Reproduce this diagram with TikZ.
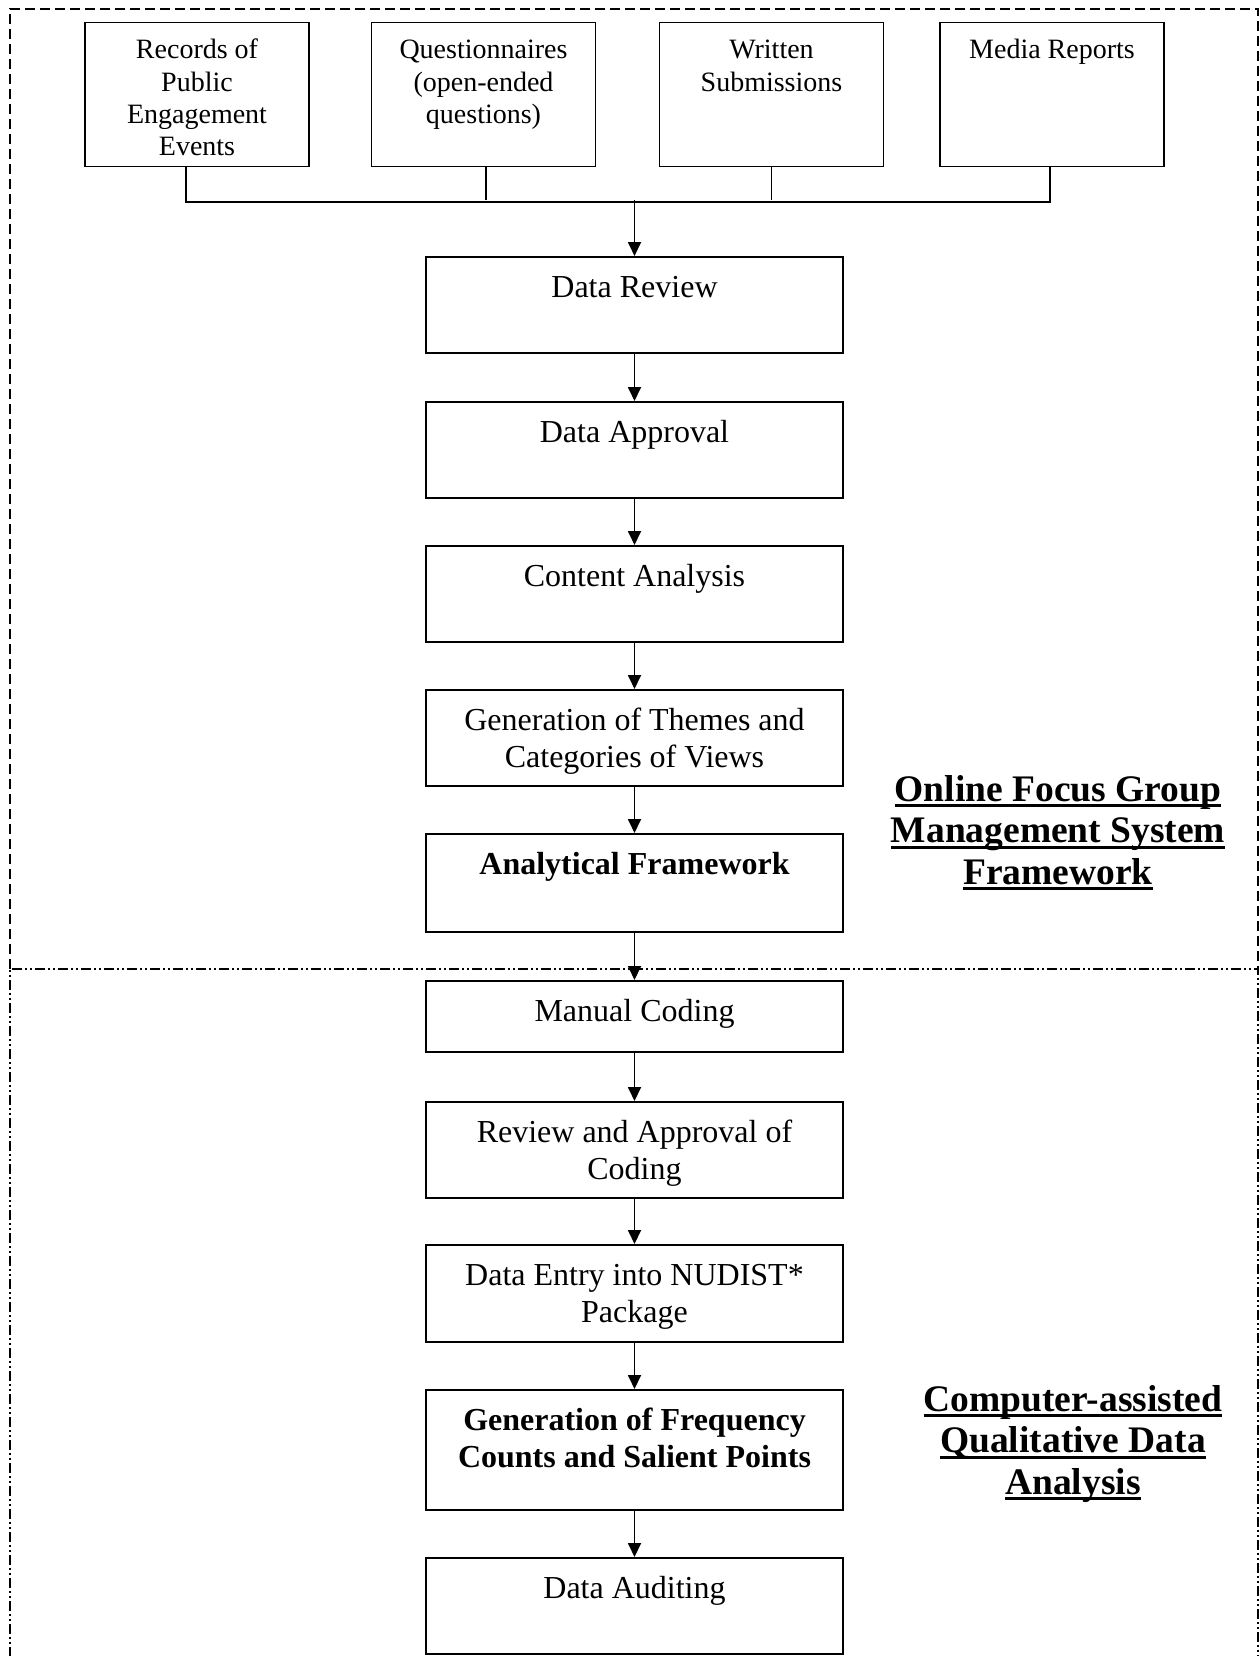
\documentclass[tikz,border=0pt]{standalone}
\usepackage{fontspec}
\setmainfont{Liberation Serif}
\usetikzlibrary{arrows.meta}
\newlength{\hdwd}
\newcommand{\hdline}[1]{\leavevmode\settowidth{\hdwd}{#1}\rlap{\rule[-6pt]{\hdwd}{3pt}}#1}

\begin{document}
\begin{tikzpicture}[x=1pt,y=-1pt,
  src/.style={draw,line width=1.5pt,inner sep=0pt,text width=224pt,align=flush center,text height=36pt,text depth=108pt,anchor=north,font=\fontsize{28}{32.3}\selectfont},
  stage/.style={draw,line width=1.8pt,inner sep=0pt,text width=417pt,align=flush center,text height=41pt,anchor=north,font=\fontsize{32}{37}\selectfont},
  arr/.style={line width=1.8pt,-{Triangle[length=14pt,width=13pt]}},
  heading/.style={inner sep=0pt,text width=400pt,align=flush center,text height=25pt,anchor=north,font=\fontsize{37.5}{41.5}\selectfont\bfseries}]
\useasboundingbox (0,0) rectangle (1260,1656);
\draw[line width=1.5pt,dash pattern=on 10pt off 5pt] (10,969) -- (10,9) -- (1258,9) -- (1258,969);
\draw[line width=1.5pt,dash pattern=on 10pt off 3pt on 2pt off 3pt on 2pt off 3pt] (10,1680) -- (10,969) -- (1258,969) -- (1258,1680);

\node[src] (rec) at (197,22) {Records of\\Public\\Engagement\\Events};
\node[src] (que) at (483.5,22) {Questionnaires\\(open-ended\\questions)};
\node[src] (wri) at (771.5,22) {Written\\Submissions};
\node[src] (med) at (1052,22) {Media Reports};
\coordinate (bus) at (634.5,200.5);
\draw[line width=1.5pt] ([xshift=-11pt]rec.south) -- ++(0,34.5) -| ([xshift=-2pt]med.south);
\draw[line width=1.5pt] ([xshift=2.5pt]que.south) -- ([xshift=2.5pt]que.south |- bus);
\draw[line width=1.5pt] (wri.south) -- (wri.south |- bus);

\node[stage,text depth=55pt] (review) at (634.5,256) {Data Review};
\node[stage,text depth=55pt] (approval) at (634.5,401) {Data Approval};
\node[stage,text depth=55pt] (content) at (634.5,545) {Content Analysis};
\node[stage,text depth=55pt] (themes) at (634.5,689) {Generation of Themes and\\Categories of Views};
\node[stage,text depth=57pt] (frame) at (634.5,833) {\textbf{Analytical Framework}};
\node[stage,text depth=30pt] (manual) at (634.5,980) {Manual Coding};
\node[stage,text depth=55pt] (coding) at (634.5,1101) {Review and Approval of\\Coding};
\node[stage,text depth=56pt] (entry) at (634.5,1244) {Data Entry into NUDIST*\\Package};
\node[stage,text depth=79pt] (freq) at (634.5,1389) {\textbf{Generation of Frequency}\\\textbf{Counts and Salient Points}};
\node[stage,text depth=55pt] (audit) at (634.5,1557) {Data Auditing};

\draw[arr] (bus) -- (review);
\draw[arr] (review) -- (approval);
\draw[arr] (approval) -- (content);
\draw[arr] (content) -- (themes);
\draw[arr] (themes) -- (frame);
\draw[arr] (frame) -- (manual);
\draw[arr] (manual) -- (coding);
\draw[arr] (coding) -- (entry);
\draw[arr] (entry) -- (freq);
\draw[arr] (freq) -- (audit);

\node[heading] (ofg) at (1058,776) {\hdline{Online Focus Group}\\\hdline{Management System}\\\hdline{Framework}};
\node[heading] (caq) at (1073,1386) {\hdline{Computer-assisted}\\\hdline{Qualitative Data}\\\hdline{Analysis}};
\end{tikzpicture}
\end{document}
